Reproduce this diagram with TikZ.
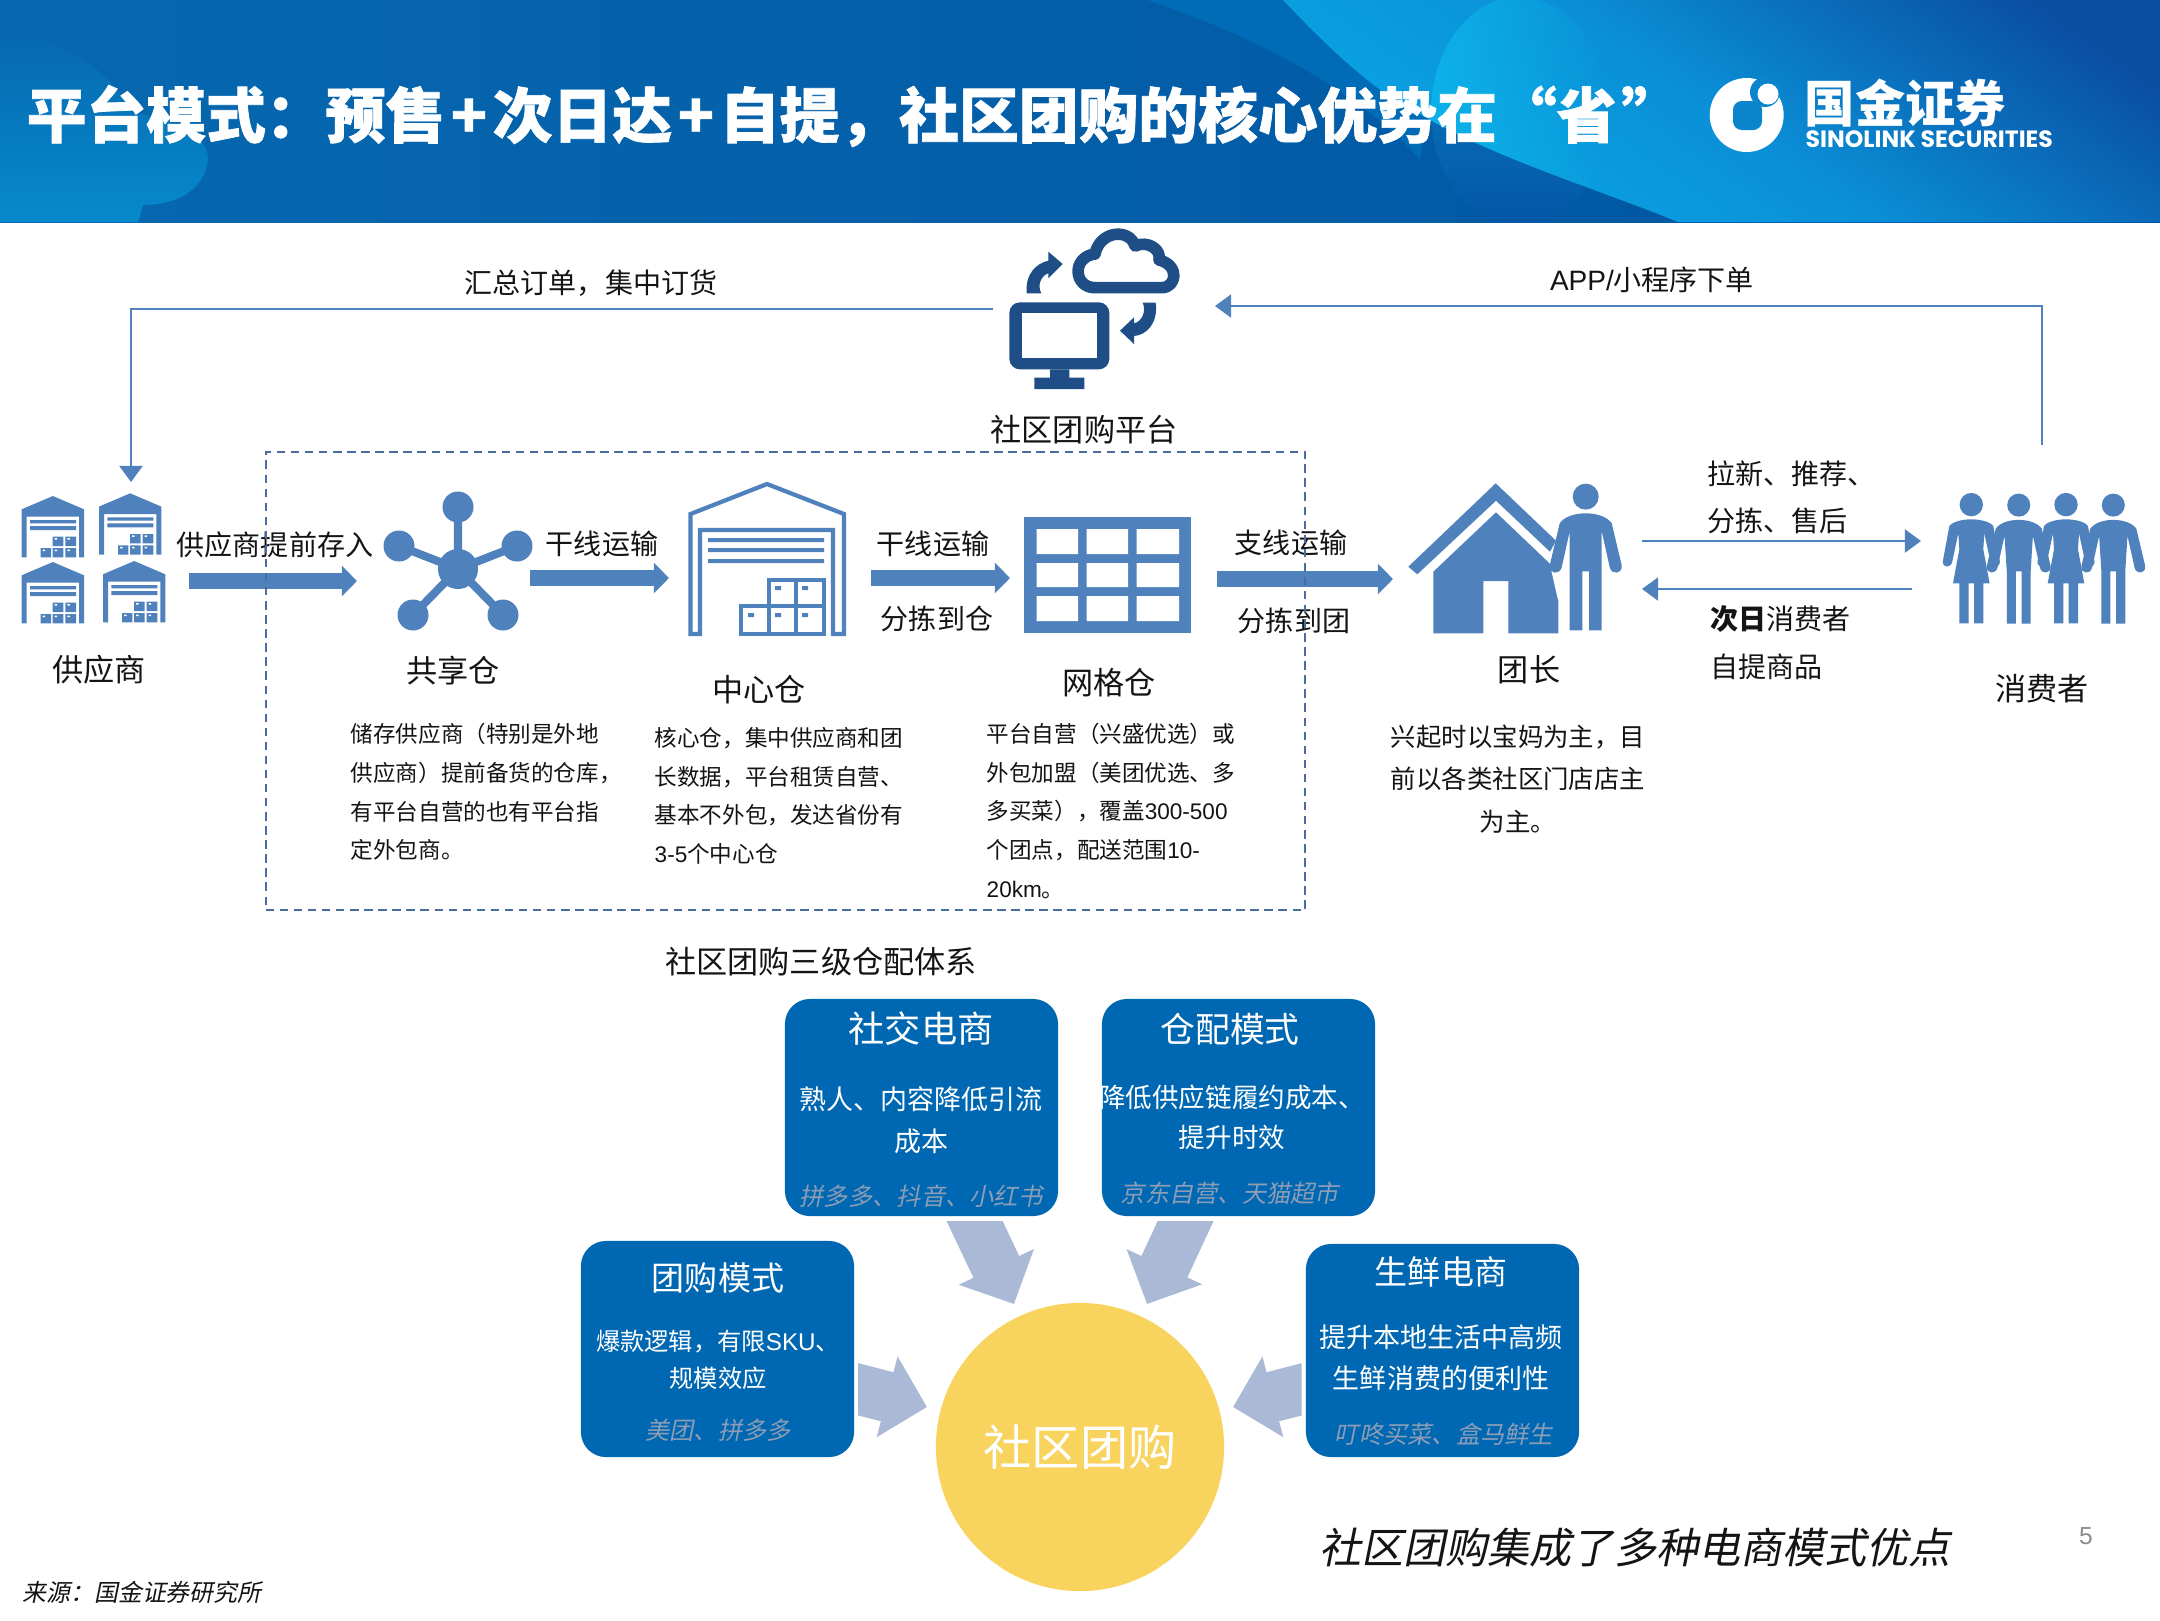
\documentclass[tikz,border=0pt]{standalone}
\usepackage{fontspec}
\usetikzlibrary{arrows.meta,calc,fadings}
\setmainfont{Noto Sans CJK SC}
\newfontfamily\cjkit[FakeSlant=0.2]{Noto Sans CJK SC}
\newfontfamily\heavy[BoldFeatures={FakeBold=1.2}]{Noto Sans CJK SC}
\newfontfamily\lat{Liberation Sans}
\newfontfamily\logof{Poppins}
\newcommand\fz[2]{\fontsize{#1pt}{#2pt}\selectfont}
\newcommand\plusk{\kern1.6pt+\kern1.6pt}
\definecolor{iconblue}{HTML}{4F81BD}
\definecolor{navy}{HTML}{1F4E87}
\definecolor{boxblue}{HTML}{0068B2}
\definecolor{lightarrow}{HTML}{A9B9D6}
\definecolor{subgray}{HTML}{8C9DB5}
\definecolor{dashcol}{HTML}{4A6C9E}
\definecolor{logobg}{HTML}{0A85CC}
\definecolor{sunny}{HTML}{F8D35E}
\definecolor{hdL}{HTML}{0668B0}
\definecolor{hdR}{HTML}{0054A0}
\definecolor{blobB}{HTML}{068ACC}
\definecolor{band}{HTML}{006CB8}
\definecolor{cyanL}{HTML}{0AA8E6}
\definecolor{cyanM}{HTML}{0A8FD6}
\definecolor{cyanR}{HTML}{0A4EA2}
\definecolor{blobC}{HTML}{0EB8EC}
\definecolor{blobM}{HTML}{0A80C8}
\definecolor{blobD}{HTML}{0456A5}
\tikzset{
 lab/.style={inner sep=0pt,text=black!92},
 labA/.style={lab,font=\fz{7.97}{10}},
 labB/.style={lab,font=\fz{8.85}{11}},
 desc/.style={lab,font=\fz{6.42}{10.95},align=left},
 bluebox/.style={fill=boxblue,rounded corners=0.25cm,inner sep=0pt,minimum width=2.73cm},
 boxhead/.style={inner sep=0pt,text=white},
 boxsub/.style={inner sep=0pt,text=subgray},
 iconbox/.style={inner sep=0pt,minimum width=1cm,minimum height=1cm},
 thinline/.style={iconblue,line width=0.55pt,-{Triangle[length=4.6pt,width=6.6pt]}},
 blockarrow/.style={iconblue,line width=4.3pt,-{Triangle[length=4.3pt,width=8.4pt]}},
 softarrow/.style={lightarrow,line width=14.4pt,-{Triangle[length=11.7pt,width=23pt]}},
}
\newcommand\smallwh[2]{%
\begin{scope}[shift={(#1,#2)}]
\fill[iconblue] (31.2,0)--(62.3,13.3)--(62.3,61.3)--(57.3,61.3)--(57.3,20.7)--(5,20.7)--(5,61.3)--(0,61.3)--(0,13.3)--cycle;
\fill[iconblue] (8.3,24) rectangle (54.3,27.3) (8.3,30) rectangle (54.3,34);
\fill[iconblue] (31,40.7) rectangle (41.7,50) (43.7,40.7) rectangle (54.3,50);
\fill[iconblue] (19,52) rectangle (29.3,61.3) (31,52) rectangle (41.7,61.3) (43.7,52) rectangle (54.3,61.3);
\fill[white] (33,42) rectangle (35.5,43.5) (45.7,42) rectangle (48.2,43.5) (21,53.5) rectangle (23.5,55) (33,53.5) rectangle (35.5,55) (45.7,53.5) rectangle (48.2,55);
\end{scope}}
\newcommand\manicon[4]{%
\begin{scope}[shift={(#1,#2)},scale=#3]
\fill[iconblue] (0,13.3) circle (13);
\fill[iconblue] (0,30) .. controls (12,30) and (22,34) .. (26,40) -- (36,82) .. controls (37,91) and (26,92) .. (24,84) -- (16,48) -- (#4,88) -- (#4,147) -- (3.3,147) -- (3.3,88) -- (-3.3,88) -- (-3.3,147) -- (-#4,147) -- (-#4,88) -- (-16,48) -- (-24,84) .. controls (-26,92) and (-37,91) .. (-36,82) -- (-26,40) .. controls (-22,34) and (-12,30) .. (0,30) -- cycle;
\end{scope}}
\newcommand\womanicon[2]{%
\begin{scope}[shift={(#1,#2)}]
\fill[iconblue] (0,11.3) circle (11.7);
\fill[iconblue] (0,26) .. controls (10,26) and (20,29) .. (22,33) -- (28.5,68) .. controls (29,75) and (20,75) .. (19,68) -- (13,40) -- (12,56) -- (18.3,90) -- (12,90) -- (12,130) -- (2.7,130) -- (2.7,90) -- (-2.7,90) -- (-2.7,130) -- (-12,130) -- (-12,90) -- (-18.3,90) -- (-12,56) -- (-13,40) -- (-19,68) .. controls (-20,75) and (-29,75) .. (-28.5,68) -- (-22,33) .. controls (-20,29) and (-10,26) .. (0,26) -- cycle;
\end{scope}}
\begin{document}
\begin{tikzpicture}[x=0.01cm,y=-0.01cm]
\useasboundingbox (0,0) rectangle (2160,1620);
\fill[white] (0,0) rectangle (2160,1620);
% ---------- header
\begin{scope}
\clip (0,0) rectangle (2160,222);
\shade[left color=hdL,right color=hdR] (0,0) rectangle (2160,222);
\shade[top color=hdL,bottom color=blobB] (0,33) .. controls (60,33) and (118,78) .. (132,113) .. controls (170,118) and (215,135) .. (207,165) .. controls (200,195) and (170,205) .. (143,205) -- (138,222) -- (0,222) -- cycle;
\fill[band] (1147,0) .. controls (1270,40) and (1375,105) .. (1420,160) -- (1425,117) -- (1283,0) -- cycle;
\shade[top color=blobM,bottom color=blobD] (1519,112) ellipse (88 and 115);
\begin{scope}
\clip (1283,0) .. controls (1340,60) and (1380,95) .. (1425,117) .. controls (1500,160) and (1600,190) .. (1678,222) -- (2160,222) -- (2160,0) -- cycle;
\shade[left color=cyanL,right color=cyanR,middle color=cyanM,shading angle=145] (1280,-40) rectangle (2160,260);
\fill[blobC,path fading=east,opacity=.75] (1519,112) ellipse (88 and 115);
\end{scope}
\end{scope}
\node[anchor=west,inner sep=0pt,text=white,font=\heavy\fz{17.0}{20}\bfseries] (title) at (26,116) {平台模式：预售\plusk 次日达\plusk 自提，社区团购的核心优势在“省\kern1.4pt”};
% logo
\fill[white] (1746.7,115) circle (37);
\fill[logobg] (1765,92) circle (15);
\fill[white] (1768,94) circle (10.5);
\fill[logobg,rounded corners=2.5pt] (1733,101) rectangle (1762,130);
\node[anchor=west,inner sep=0pt,text=white,font=\fz{14.3}{16}\bfseries] (logocn) at (1804,103) {国金证券};
\node[anchor=west,inner sep=0pt,text=white,font=\logof\fz{6.7}{8}\bfseries] (logoen) at (1805,139) {SINOLINK SECURITIES};
% ---------- platform icon
\node[iconbox,minimum width=2.22cm,minimum height=1.7cm] (platform) at (1104,308) {};
\begin{scope}[shift={(980,210)},scale=0.33333]
\fill[navy,rounded corners=3pt] (88,277) rectangle (388,478);
\fill[white] (125,310) rectangle (352,443);
\fill[navy] (210,478) rectangle (268,503) (163,503) rectangle (313,537);
\draw[navy,line width=3.3pt,line join=round] (345,233) .. controls (280,233) and (275,140) .. (345,132) .. controls (360,60) and (450,55) .. (465,108) .. controls (505,90) and (545,120) .. (537,150) .. controls (600,165) and (590,233) .. (545,233) -- cycle;
\fill[navy] (140,250) .. controls (135,190) and (170,160) .. (205,152) -- (205,125) -- (248,162) -- (205,205) -- (205,190) .. controls (185,195) and (170,225) .. (184,250) -- cycle;
\fill[navy] (527,278) .. controls (535,340) and (500,375) .. (462,378) -- (462,402) -- (420,362) -- (462,322) -- (462,340) .. controls (485,335) and (500,305) .. (488,278) -- cycle;
\end{scope}
\node[labB] (platlab) at (1084,430) {社区团购平台};
% connectors on top
\coordinate (pfL) at (993,309.3);
\coordinate (pfR) at (1215,306);
\coordinate (supN) at (131,482);
\coordinate (conN) at (2042,445);
\draw[thinline] (pfL) -| (supN);
\draw[thinline] (conN) |- (pfR);
\node[labA] (lab1) at (591,283) {汇总订单，集中订货};
\node[labA] (lab2) at (1652,280) {{\lat APP/}小程序下单};
% ---------- suppliers
\node[iconbox,minimum width=1.45cm,minimum height=1.3cm] (supplier) at (94,561) {};
\smallwh{21.7}{496}
\smallwh{99}{493.3}
\smallwh{21.7}{562}
\smallwh{103}{561}
\node[labB] (suplab) at (99,670) {供应商};
% ---------- hub
\node[iconbox,minimum width=1.55cm,minimum height=1.3cm] (share) at (458,565) {};
\draw[iconblue,line width=2.3pt] (458,569) -- (458,507) (458,569) -- (399,546) (458,569) -- (517,546) (458,569) -- (413,615) (458,569) -- (503,615);
\fill[iconblue] (458,569) circle (20) (458,507) circle (15.5) (399,546) circle (15.5) (517,546) circle (15.5) (413,615) circle (15.5) (503,615) circle (15.5);
\node[labB] (sharelab) at (453,671) {共享仓};
% ---------- central warehouse
\node[iconbox,minimum width=1.6cm,minimum height=1.55cm] (central) at (767,558) {};
\draw[iconblue,line width=1.2pt,line join=miter] (690.5,634) -- (690.5,514) -- (767,484) -- (844,514) -- (844,634) -- (833,634) -- (833,530) -- (700,530) -- (700,634) -- cycle;
\fill[iconblue] (708,538) rectangle (824,542) (708,548) rectangle (824,552) (708,559) rectangle (824,563);
\draw[iconblue,line width=1.0pt] (769,606) |- (824,580) -- (824,634) -- (741,634) -- (741,606) -- (824,606) (796,580) -- (796,634) (769,606) -- (769,634);
\fill[iconblue] (775,586) rectangle (781,590) (802,586) rectangle (808,590) (748,613) rectangle (754,617) (775,613) rectangle (781,617) (802,613) rectangle (808,617);
\node[labB] (centrallab) at (759,690) {中心仓};
% ---------- grid
\node[iconbox,minimum width=1.67cm,minimum height=1.16cm,fill=iconblue] (grid) at (1107.5,575) {};
\fill[white] (1036.5,529) rectangle (1078,554) (1086.5,529) rectangle (1128,554) (1136.6,529) rectangle (1179,554)
 (1036.5,563) rectangle (1078,587) (1086.5,563) rectangle (1128,587) (1136.6,563) rectangle (1179,587)
 (1036.5,596) rectangle (1078,621) (1086.5,596) rectangle (1128,621) (1136.6,596) rectangle (1179,621);
\node[labB] (gridlab) at (1109,683) {网格仓};
% ---------- leader
\node[iconbox,minimum width=2.2cm,minimum height=1.55cm] (leader) at (1510,558) {};
\fill[iconblue] (1495.7,483.3) -- (1408.3,566.7) -- (1417.3,574.3) -- (1496,500.7) -- (1550,551.7) -- (1556,540.7) -- cycle;
\fill[iconblue] (1496,512.3) -- (1433.3,571.7) -- (1433.3,633.3) -- (1483.3,633.3) -- (1483.3,581) -- (1508.3,581) -- (1508.3,633.3) -- (1558.3,633.3) -- (1558.3,571.7) -- cycle;
\fill[white] (1548,556) -- (1561,545) -- (1566,600) -- (1558,600) -- cycle;
\manicon{1585.7}{483.3}{1}{16}
\node[labB] (leaderlab) at (1529,670) {团长};
% ---------- consumers
\node[iconbox,minimum width=2cm,minimum height=1.3cm] (consumer) at (2042,558) {};
\womanicon{1971.3}{493.3}
\manicon{2018.7}{493.3}{0.886}{13.5}
\womanicon{2066}{493.3}
\manicon{2113.3}{493.3}{0.886}{13.5}
\node[labB] (conlab) at (2042,689) {消费者};
% ---------- block arrows
\coordinate (b1s) at (189,581); \coordinate (b1e) at (357,581);
\coordinate (b2s) at (530,578); \coordinate (b2e) at (669,578);
\coordinate (b3s) at (871,578); \coordinate (b3e) at (1010,578);
\coordinate (b4s) at (1217,579); \coordinate (b4e) at (1393,579);
\draw[blockarrow] (b1s) -- (b1e);
\draw[blockarrow] (b2s) -- (b2e);
\draw[blockarrow] (b3s) -- (b3e);
\draw[blockarrow] (b4s) -- (b4e);
\node[labA] (t1) at (275,545) {供应商提前存入};
\node[labA] (t2) at (602,544) {干线运输};
\node[labA] (t3) at (933,544) {干线运输};
\node[labA] (t4) at (937,619) {分拣到仓};
\node[labA] (t5) at (1291,543) {支线运输};
\node[labA] (t6) at (1294,621) {分拣到团};
% leader <-> consumer
\coordinate (lcA) at (1642,541); \coordinate (lcB) at (1921,541);
\coordinate (clA) at (1912,589); \coordinate (clB) at (1642,589);
\draw[thinline] (lcA) -- (lcB);
\draw[thinline] (clA) -- (clB);
\node[labA,anchor=west] (t7) at (1707,474) {拉新、推荐、};
\node[labA,anchor=west] (t8) at (1707,521) {分拣、售后};
\node[labA,anchor=west] (t9) at (1710,619) {\textbf{次日}消费者};
\node[labA,anchor=west] (t10) at (1710,667) {自提商品};
% ---------- descriptions
\node[desc,anchor=west] (d1) at (350,792) {储存供应商（特别是外地\\供应商）提前备货的仓库，\\有平台自营的也有平台指\\定外包商。};
\node[desc,anchor=west] (d2) at (654,796) {核心仓，集中供应商和团\\长数据，平台租赁自营、\\基本不外包，发达省份有\\{\lat 3-5}个中心仓};
\node[desc,anchor=west] (d3) at (986,811) {平台自营（兴盛优选）或\\外包加盟（美团优选、多\\多买菜），覆盖{\lat 300-500}\\个团点，配送范围{\lat 10-}\\{\lat 20km}。};
\node[lab,font=\fz{7.23}{12},align=center] (d4) at (1518,779) {兴起时以宝妈为主，目\\前以各类社区门店店主\\为主。};
% ---------- dashed region
\node[draw=dashcol,line width=0.6pt,dash pattern=on 2.4pt off 1.6pt,inner sep=0pt,minimum width=10.39cm,minimum height=4.58cm] (region) at (785.5,681) {};
\node[labB] (sys) at (821,962) {社区团购三级仓配体系};
% ---------- bottom
\node[circle,fill=sunny,minimum size=2.88cm,inner sep=0pt,text=white,font=\fz{13.7}{15}] (hub) at (1080,1447) {社区团购};
\node[bluebox,minimum height=2.17cm] (social) at (921.5,1107.5) {};
\node[bluebox,minimum height=2.17cm] (wms) at (1238.5,1107.5) {};
\node[bluebox,minimum height=2.16cm] (group) at (717.5,1349) {};
\node[bluebox,minimum height=2.13cm] (fresh) at (1442.5,1350.5) {};
\coordinate (a1s) at (965.5,1202); \coordinate (a1t) at (1014,1304);
\coordinate (a2s) at (1194.5,1202); \coordinate (a2t) at (1147,1304);
\coordinate (a3s) at (830,1382); \coordinate (a3t) at (927,1407);
\coordinate (a4s) at (1330,1382); \coordinate (a4t) at (1233,1407);
\begin{scope}
\clip (900,1221) rectangle (1260,1320);
\draw[softarrow] (a1s) -- (a1t);
\draw[softarrow] (a2s) -- (a2t);
\end{scope}
\begin{scope}
\clip (858,1340) rectangle (1301.5,1450);
\draw[softarrow] (a3s) -- (a3t);
\draw[softarrow] (a4s) -- (a4t);
\end{scope}
\node[boxhead,font=\fz{10.3}{12}] (h1) at (921,1029) {社交电商};
\node[boxhead,font=\fz{7.68}{11.9},align=center] (b1) at (921,1120) {熟人、内容降低引流\\成本};
\node[boxsub,font=\cjkit\fz{6.9}{9}] (s1) at (921,1196) {拼多多、抖音、小红书};
\node[boxhead,font=\fz{9.9}{12}] (h2) at (1230,1029) {仓配模式};
\node[boxhead,font=\fz{7.55}{11.4},align=center] (b2) at (1232,1117) {降低供应链履约成本、\\提升时效};
\node[boxsub,font=\cjkit\fz{6.89}{9}] (s2) at (1230,1193) {京东自营、天猫超市};
\node[boxhead,font=\fz{9.39}{12}] (h3) at (718,1278) {团购模式};
\node[boxhead,font=\fz{6.9}{10.5},align=center] (b3) at (718,1360) {爆款逻辑，有限{\lat SKU}、\\规模效应};
\node[boxsub,font=\cjkit\fz{6.89}{9}] (s3) at (718,1430) {美团、拼多多};
\node[boxhead,font=\fz{9.39}{12}] (h4) at (1441,1272) {生鲜电商};
\node[boxhead,font=\fz{7.68}{11.7},align=center] (b4) at (1441,1358) {提升本地生活中高频\\生鲜消费的便利性};
\node[boxsub,font=\cjkit\fz{6.89}{9}] (s4) at (1444,1434) {叮咚买菜、盒马鲜生};
\node[lab,font=\cjkit\fz{11.95}{14}] (slogan) at (1635,1548) {社区团购集成了多种电商模式优点};
\node[lab,font=\cjkit\fz{6.8}{9}] (source) at (142,1592) {来源：国金证券研究所};
\node[inner sep=0pt,text=black!45,font=\lat\fz{7}{9}] (page) at (2086,1536) {5};
\end{tikzpicture}
\end{document}
